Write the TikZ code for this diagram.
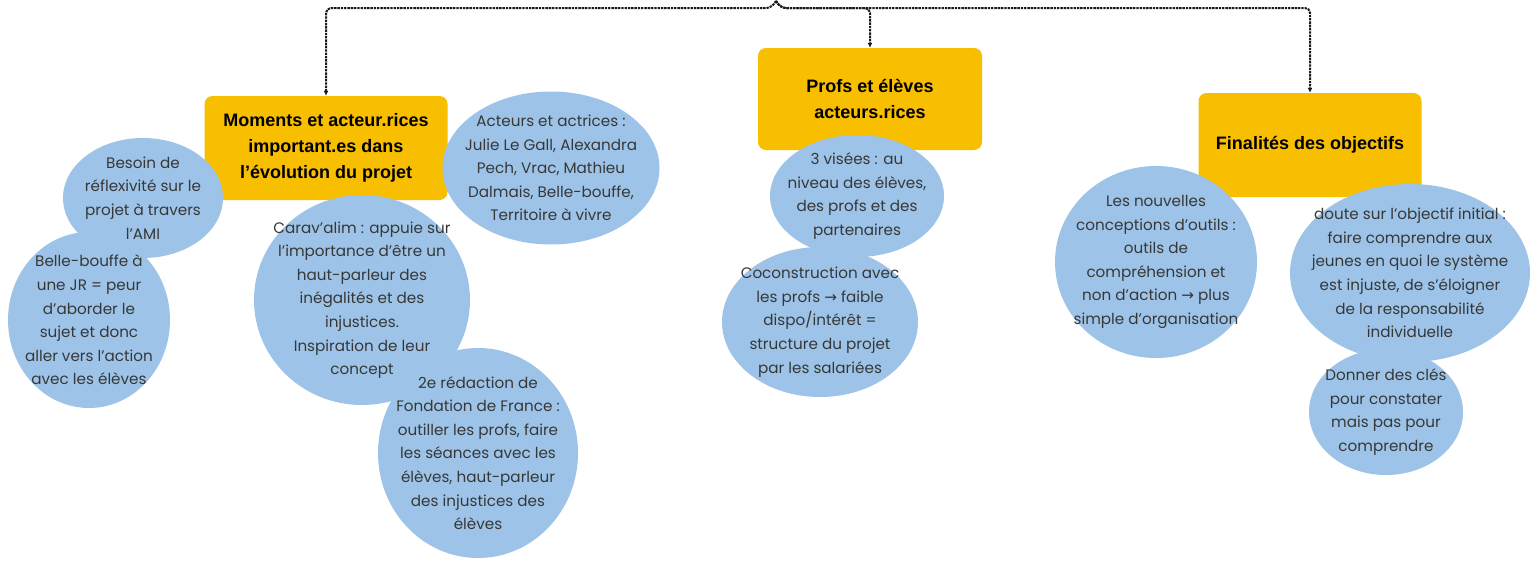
\documentclass[tikz,border=0pt]{standalone}
\usepackage{fontspec}
\setmainfont{Poppins}
\newfontfamily\headfont{Liberation Sans}
\newfontfamily\symfont{DejaVu Sans}
\usetikzlibrary{shapes.geometric,arrows.meta}
\definecolor{boxyellow}{RGB}{248,190,0}
\definecolor{bubbleblue}{RGB}{157,196,232}
\definecolor{bubbletext}{RGB}{55,55,55}
\newcommand{\rarr}{{\symfont →}}
\tikzset{
  headbox/.style={fill=boxyellow, rounded corners=8pt, inner sep=0pt, align=center,
    font=\headfont\bfseries\fontsize{18}{26}\selectfont, text=black},
  bubble/.style={ellipse, fill=bubbleblue, inner sep=0pt},
  bubbletxt/.style={inner sep=0pt, align=center, text=bubbletext,
    font=\fontsize{15.2}{23.6}\selectfont},
  link/.style={draw=black!90, line width=2pt, dash pattern=on 2.4pt off 0.9pt,
    rounded corners=5pt, -{Latex[length=5pt,width=5pt]}},
}
\begin{document}
\begin{tikzpicture}[x=1pt,y=-1pt]
\useasboundingbox[fill=white] (0,0) rectangle (1530,562);

% headings
\node[headbox, minimum width=243pt, minimum height=104pt] (b1) at (326,148)
  {Moments et acteur.rices\\important.es dans\\l’évolution du projet};
\node[headbox, minimum width=224pt, minimum height=102pt] (b2) at (870,99)
  {Profs et élèves\\acteurs.rices};
\node[headbox, minimum width=223pt, minimum height=104pt] (b3) at (1310,145)
  {Finalités des objectifs};

% root of the tree and its branches
\coordinate (root) at (776,1);
\draw[link] (root) -- ++(-5,7) -| (b1.north);
\draw[link] (root) -- ++(5,7) -| (b3.north);
\draw[link] (root) -- ++(5,7) -| (b2.north);

% first column
\node[bubble, minimum width=160pt, minimum height=120pt] (e1) at (143,198) {};
\node[bubbletxt] (t1) at (e1)
  {Besoin de\\réflexivité sur le\\projet à travers\\l’AMI};
\node[bubble, minimum width=162pt, minimum height=176pt] (e2) at (89,320) {};
\node[bubbletxt] (t2) at (e2)
  {Belle-bouffe à\\une JR = peur\\d’aborder le\\sujet et donc\\aller vers l’action\\avec les élèves};
\node[bubble, minimum width=216pt, minimum height=210pt] (e3) at (362,300) {};
\node[bubbletxt] (t3) at (e3)
  {Carav’alim : appuie sur\\l’importance d’être un\\haut-parleur des\\inégalités et des\\injustices.\\Inspiration de leur\\concept};
\node[bubble, minimum width=200pt, minimum height=210pt] (e4) at (478,453) {};
\node[bubbletxt] (t4) at (e4)
  {2e rédaction de\\Fondation de France :\\outiller les profs, faire\\les séances avec les\\élèves, haut-parleur\\des injustices des\\élèves};
\node[bubble, minimum width=217pt, minimum height=153pt] (e5) at (551,168) {};
\node[bubbletxt] (t5) at (e5)
  {Acteurs et actrices :\\Julie Le Gall, Alexandra\\Pech, Vrac, Mathieu\\Dalmais, Belle-bouffe,\\Territoire à vivre};

% second column
\node[bubble, minimum width=174pt, minimum height=122pt] (e6) at (857,196) {};
\node[bubbletxt] (t6) at (e6)
  {3 visées : au\\niveau des élèves,\\des profs et des\\partenaires};
\node[bubble, minimum width=196pt, minimum height=150pt] (e7) at (820,322) {};
\node[bubbletxt] (t7) at (e7)
  {Coconstruction avec\\les profs \rarr{} faible\\dispo/intérêt =\\structure du projet\\par les salariées};

% third column
\node[bubble, minimum width=202pt, minimum height=192pt] (e8) at (1156,262) {};
\node[bubbletxt] (t8) at (e8)
  {Les nouvelles\\conceptions d’outils :\\outils de\\compréhension et\\non d’action \rarr{} plus\\simple d’organisation};
\node[bubble, minimum width=240pt, minimum height=178pt] (e9) at (1410,273) {};
\node[bubbletxt] (t9) at (e9)
  {doute sur l’objectif initial :\\faire comprendre aux\\jeunes en quoi le système\\est injuste, de s’éloigner\\de la responsabilité\\individuelle};
\node[bubble, minimum width=154pt, minimum height=126pt] (e10) at (1386,412) {};
\node[bubbletxt] (t10) at (e10)
  {Donner des clés\\pour constater\\mais pas pour\\comprendre};
\end{tikzpicture}
\end{document}
